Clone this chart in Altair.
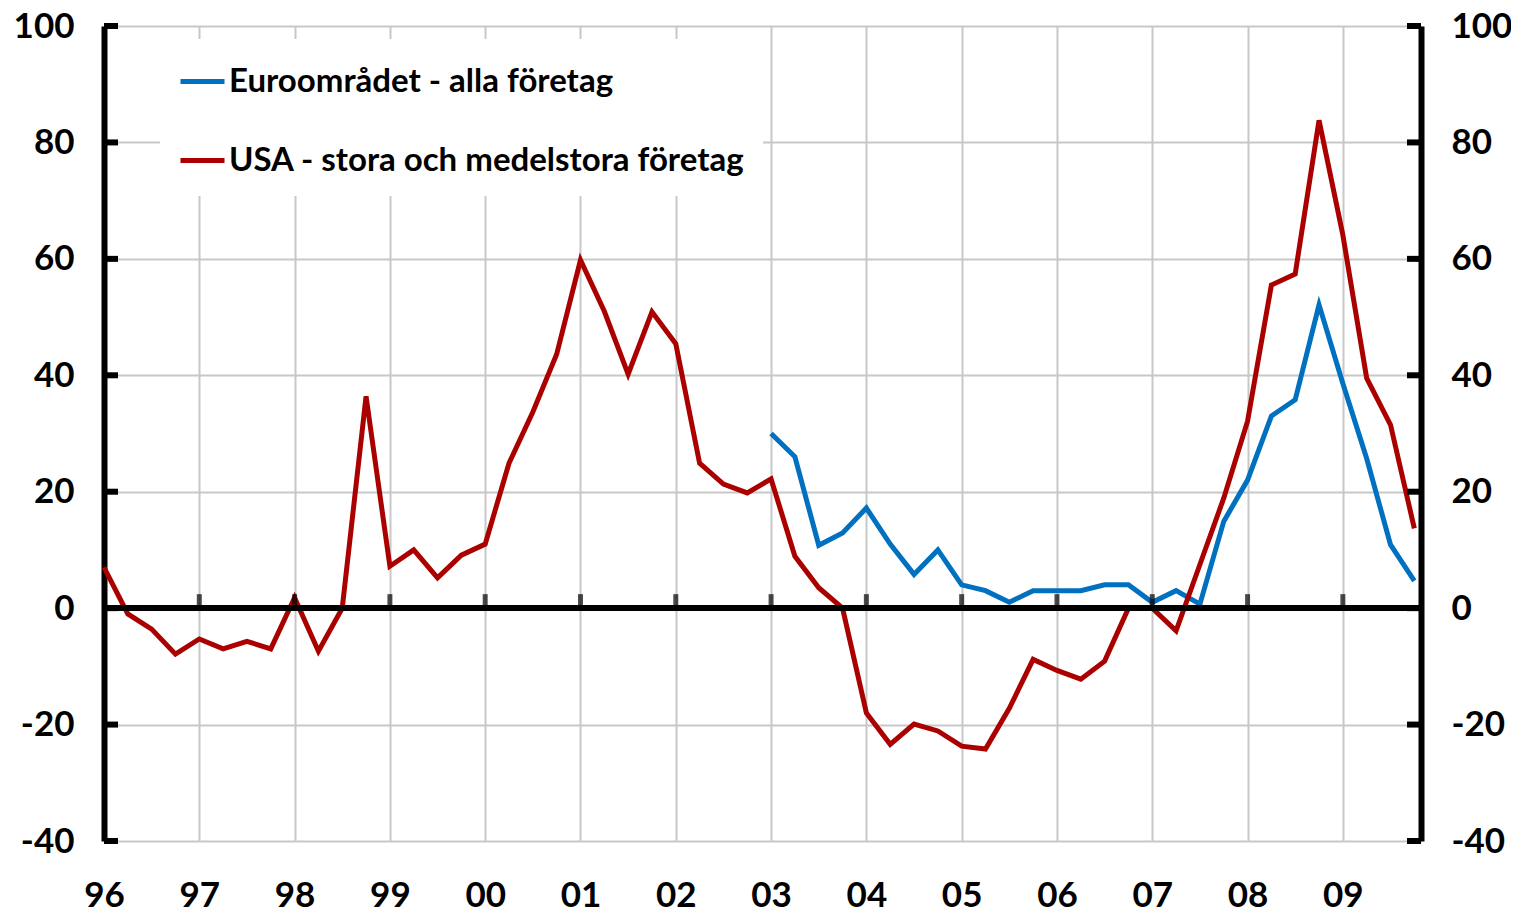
import altair as alt
import pandas as pd

# ---- data (quarterly, 1996Q1 - 2009Q4) ----
year_labels = ["96", "97", "98", "99", "00", "01", "02", "03", "04", "05", "06", "07", "08", "09"]
y_ticks = [-40, -20, 0, 20, 40, 60, 80, 100]
series_names = ["Euroområdet - alla företag", "USA - stora och medelstora företag"]
series_colors = ["#0070C0", "#AA0000"]

usa = [7, -1, -3.6, -7.9, -5.3, -7, -5.7, -7,
       1.8, -7.4, 0, 36.4, 7.2, 10, 5.2, 9.1,
       11, 24.9, 33.7, 43.6, 59.8, 51, 40.2, 50.9,
       45.4, 24.9, 21.3, 19.8, 22.2, 8.9, 3.5, 0,
       -18, -23.4, -19.9, -21.1, -23.7, -24.2, -17.2, -8.8,
       -10.7, -12.2, -9.1, 0, 0, -3.9, 7.5, 18.9,
       32.1, 55.5, 57.4, 83.8, 64.1, 39.5, 31.5, 13.7]
# Euro area starts 2003Q1
euro = [30, 26, 10.8, 12.9, 17.2, 11, 5.8, 10,
        4, 3, 1, 3, 3, 3, 4, 4,
        1, 3, 0.7, 14.9, 22, 33, 35.8, 52.1,
        38.6, 25.7, 10.9, 4.7]
euro_start_year_index = 7

rows = []
for i, v in enumerate(euro):
    rows.append({"t": euro_start_year_index + i * 0.25, "value": v, "series": series_names[0]})
for i, v in enumerate(usa):
    rows.append({"t": i * 0.25, "value": v, "series": series_names[1]})
df = pd.DataFrame(rows)

ticks_df = pd.DataFrame({"v": y_ticks})
xticks_df = pd.DataFrame({"t": list(range(1, len(year_labels)))})

W, H = 1317, 815
FONT = "Lato"
GRID = "#C8C8C8"
TICK_FS = 35

x_dom = [0, 13.82]
y_dom = [-40, 100]
x_label_expr = "[" + ",".join(f"'{l}'" for l in year_labels) + "][datum.value]"
y_label_expr = "toString(datum.value)"

x_scale = alt.Scale(domain=x_dom, nice=False, zero=False)
y_scale = alt.Scale(domain=y_dom, nice=False, zero=False)

x_axis = alt.Axis(values=list(range(len(year_labels))), labelExpr=x_label_expr,
                  grid=True, gridColor=GRID, gridWidth=2, domain=False,
                  ticks=False, tickSize=0, labelPadding=37, labelFontSize=TICK_FS,
                  labelFont=FONT, labelFontWeight="bold", labelColor="black",
                  title=None, labelFlush=False)
y_axis_left = alt.Axis(values=y_ticks, labelExpr=y_label_expr,
                       grid=True, gridColor=GRID, gridWidth=2,
                       domain=True, domainColor="black", domainWidth=6,
                       ticks=False, tickSize=0, labelPadding=30, labelFontSize=TICK_FS,
                       labelFont=FONT, labelFontWeight="bold", labelColor="black",
                       title=None, orient="left")
y_axis_right = alt.Axis(values=y_ticks, labelExpr=y_label_expr, grid=False,
                        domain=True, domainColor="black", domainWidth=6,
                        ticks=False, tickSize=0, labelPadding=30, labelFontSize=TICK_FS,
                        labelFont=FONT, labelFontWeight="bold", labelColor="black",
                        labelAlign="left",
                        title=None, orient="right")

lines = alt.Chart(df).mark_line(strokeWidth=5, strokeJoin="miter").encode(
    x=alt.X("t:Q", scale=x_scale, axis=x_axis),
    y=alt.Y("value:Q", scale=y_scale, axis=y_axis_left),
    color=alt.Color("series:N",
                    scale=alt.Scale(domain=series_names, range=series_colors),
                    legend=alt.Legend(orient="none", legendX=56, legendY=13, title=None,
                                      fillColor="white", padding=18,
                                      symbolType="stroke", symbolSize=1936,
                                      symbolStrokeWidth=5, rowPadding=37,
                                      labelFontSize=33, labelFont=FONT,
                                      labelFontWeight="bold", labelColor="black",
                                      labelOffset=2, labelLimit=1000)),
    order=alt.Order("t:Q"),
)

zero = alt.Chart(df).mark_rule(color="black", strokeWidth=5).encode(
    y=alt.datum(0, scale=y_scale)
)

left_ticks = alt.Chart(ticks_df).mark_rule(color="black", strokeWidth=6).encode(
    y=alt.Y("v:Q", scale=y_scale),
    x=alt.value(0), x2=alt.value(14),
)

x_ticks = alt.Chart(xticks_df).mark_tick(color="black", thickness=5, size=14,
                                         orient="vertical", yOffset=-7).encode(
    x=alt.X("t:Q", scale=x_scale),
    y=alt.datum(0, scale=y_scale),
)

left = alt.layer(lines, zero, left_ticks, x_ticks)

right = alt.Chart(ticks_df).mark_rule(color="black", strokeWidth=6).encode(
    y=alt.Y("v:Q", scale=y_scale, axis=y_axis_right),
    x=alt.value(W - 14), x2=alt.value(W),
)

chart = alt.layer(left, right).resolve_scale(y="independent").properties(
    width=W, height=H,
    padding={"left": 96, "top": 18, "right": 90, "bottom": 85},
    autosize=alt.AutoSizeParams(type="none"),
).configure_view(stroke=None)

chart.save("out.html", embed_options={"renderer": "svg", "actions": False})
